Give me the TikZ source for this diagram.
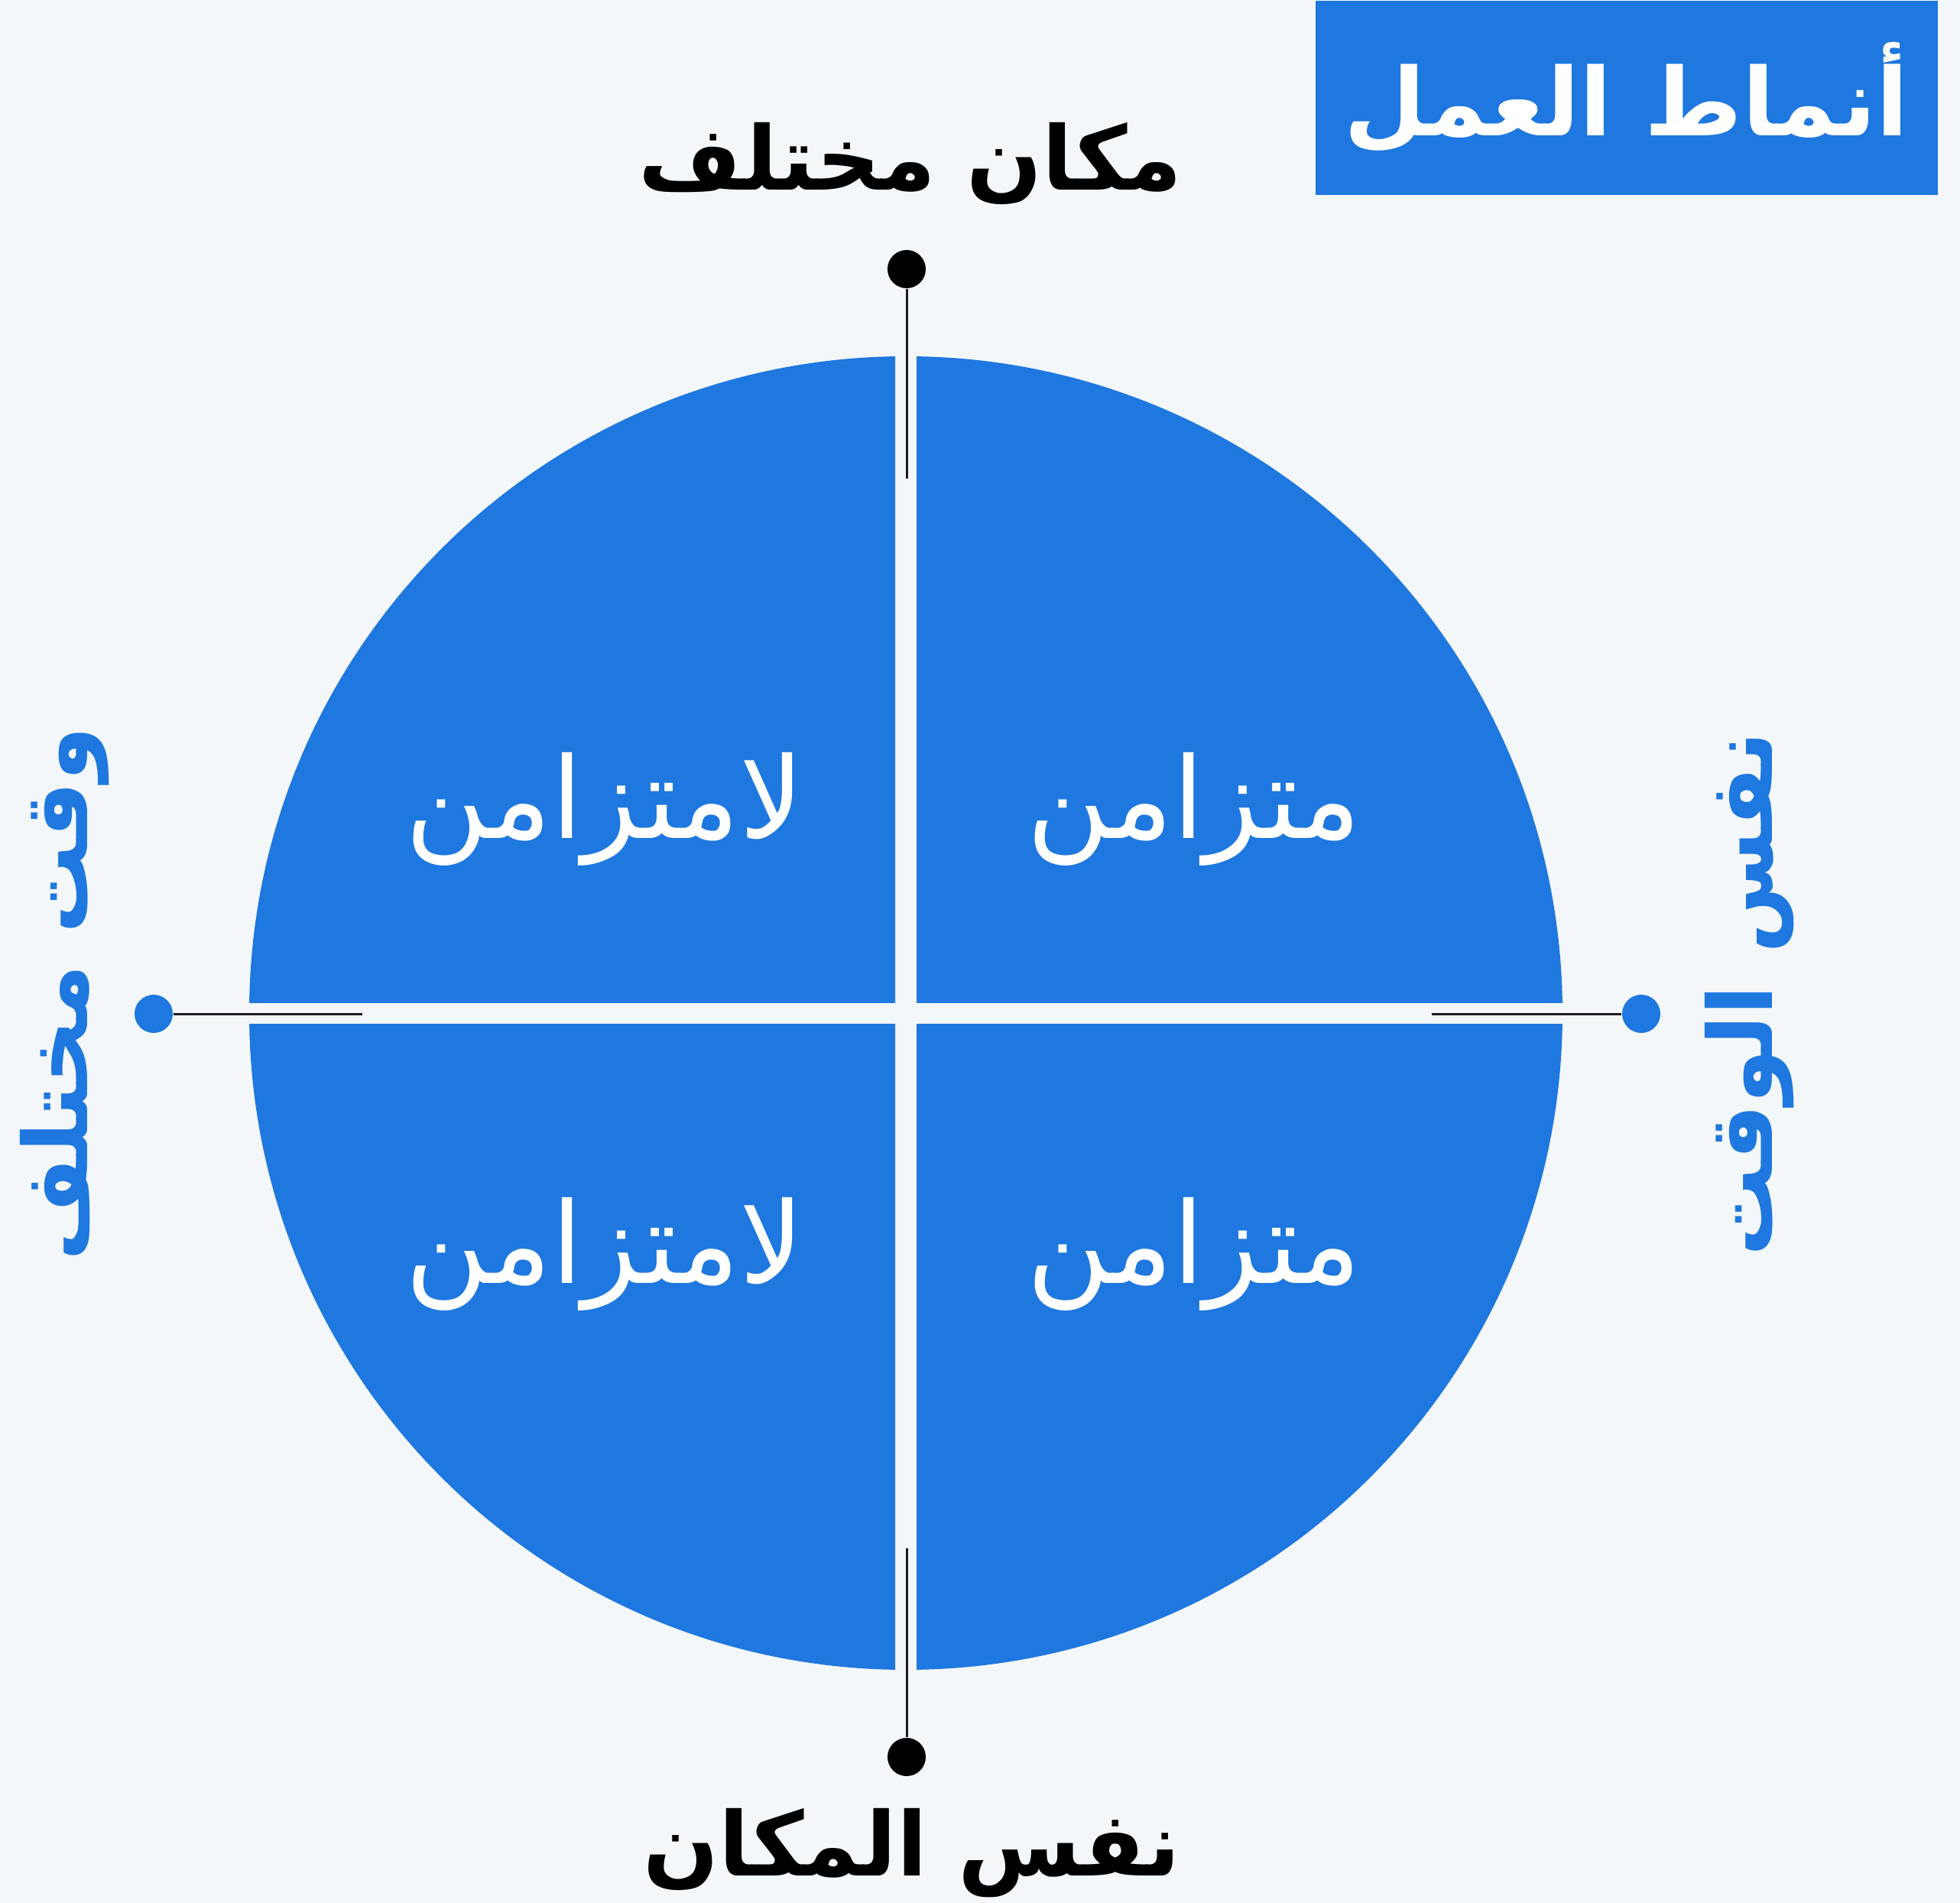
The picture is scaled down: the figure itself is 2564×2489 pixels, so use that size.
\documentclass[tikz,border=0pt]{standalone}
\usepackage{fontspec}
\newfontfamily\arabicfont[Script=Arabic]{DejaVu Sans}
\TeXXeTstate=1
\usetikzlibrary{positioning}
\definecolor{tileblue}{HTML}{1F78DF}
\definecolor{paper}{HTML}{F4F7FA}
\definecolor{ink}{HTML}{1C1C24}
\newcommand{\ar}[1]{\arabicfont\beginR #1\endR}

\begin{document}
\begin{tikzpicture}[x=0.01cm, y=-0.01cm,
    dot/.style={circle, fill, inner sep=0pt, minimum size=0.5cm},
    guide/.style={ink, line width=0.03cm},
    sidetext/.style={inner sep=0pt, font=\fontsize{33}{40}\selectfont\bfseries},
    quad/.style={inner sep=0pt, text=white, font=\fontsize{42}{50}\selectfont}]
    \useasboundingbox (0,0) rectangle (2564,2489);
    \fill[paper] (0,0) rectangle (2564,2489);
    \coordinate (c) at (1185,1325);

    % four quarters of the disc
    \foreach \dx/\dy in {-14/-14, 14/-14, -14/14, 14/14} {
        \begin{scope}
            \clip ([shift={(\dx,\dy)}]c) rectangle ([shift={(70*\dx,70*\dy)}]c);
            \fill[tileblue] (c) circle[radius=859];
        \end{scope}
    }

    \node[dot] (top) at (1186,352) {};
    \node[dot] (bottom) at (1186,2298) {};
    \node[dot, tileblue] (left) at (201,1326) {};
    \node[dot, tileblue] (right) at (2147,1326) {};
    \coordinate (topend) at (1186,626);
    \coordinate (bottomend) at (1186,2025);
    \coordinate (leftend) at (474,1326);
    \coordinate (rightend) at (1873,1326);
    \foreach \i in {top,bottom,left,right} {
        \draw[guide] (\i) -- (\i end);
    }

    \node[sidetext] (place1) at (1191,214) {\ar{مكان مختلف}};
    \node[sidetext] (place2) at (1193,2424) {\ar{نفس المكان}};
    \node[sidetext, tileblue, rotate=90] (time1) at (85,1300) {\ar{وقت مختلف}};
    \node[sidetext, tileblue, rotate=90] (time2) at (2289,1300) {\ar{نفس الوقت}};

    \node[quad] (q1) at (1562,1058) {\ar{متزامن}};
    \node[quad] (q2) at (791,1058) {\ar{لامتزامن}};
    \node[quad] (q3) at (1562,1640) {\ar{متزامن}};
    \node[quad] (q4) at (791,1640) {\ar{لامتزامن}};

    \node[fill=tileblue, anchor=north west, inner sep=0pt, minimum width=8.14cm, minimum height=2.54cm] (title) at (1720,0) {};
    \node[text=white, inner sep=0pt, font=\fontsize{35}{42}\selectfont\bfseries] (titletext) at (title.center) {\ar{أنماط العمل}};
\end{tikzpicture}
\end{document}
